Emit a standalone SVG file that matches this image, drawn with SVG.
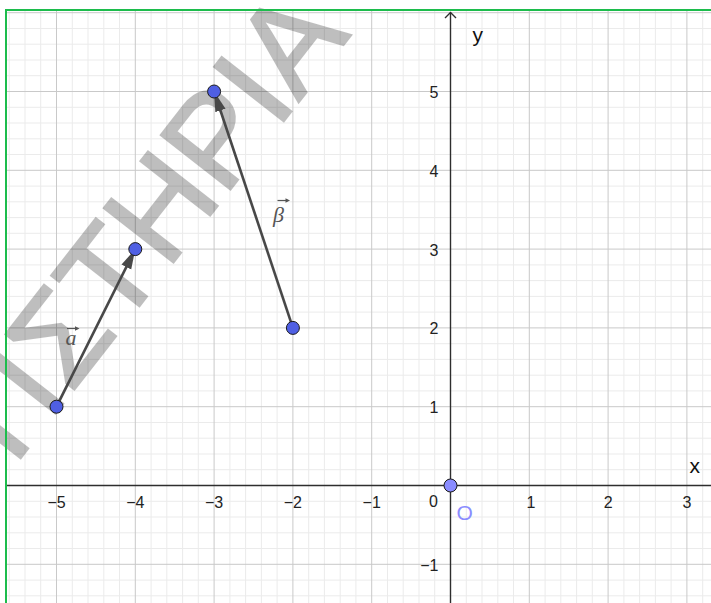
<svg xmlns="http://www.w3.org/2000/svg" width="711" height="603" viewBox="0 0 711 603">
<style>
.minor{stroke:#ebebeb;stroke-width:1;fill:none}
.major{stroke:#c9c9c9;stroke-width:1;fill:none}
.axis{stroke:#2e2e2e;stroke-width:1.4;fill:none}
.tick{font-family:"Liberation Sans",Arial,sans-serif;font-size:16px;fill:#222}
.axlab{font-family:"Liberation Sans",Arial,sans-serif;font-size:21px;fill:#111}
.vec{stroke:#484848;stroke-width:2.6;fill:none}
.pt{fill:#4f5fe3;stroke:#1a1a1a;stroke-width:1}
.pto{fill:#8a8cff;stroke:#1a1a1a;stroke-width:1}
.vlab{font-family:"Liberation Serif","Times New Roman",serif;font-style:italic;font-size:22px;fill:#555}
.wm{font-family:"Liberation Sans",Arial,sans-serif;font-size:128px;fill:#000;stroke:#000;stroke-width:2.5}
</style>
<defs>
<marker id="ah" viewBox="0 0 20 12" refX="20" refY="6" markerWidth="20" markerHeight="12" markerUnits="userSpaceOnUse" orient="auto">
<path d="M0,0.6 L20,6 L0,11.4 z" fill="#484848"/>
</marker>
</defs>
<rect x="0" y="0" width="711" height="603" fill="#fff"/>
<g id="grid">
<path class="minor" d="M9.2,10V603M25,10V603M40.7,10V603M72.3,10V603M88,10V603M103.8,10V603M119.5,10V603M151.1,10V603M166.8,10V603M182.6,10V603M198.3,10V603M229.9,10V603M245.6,10V603M261.4,10V603M277.1,10V603M308.7,10V603M324.4,10V603M340.2,10V603M355.9,10V603M387.5,10V603M403.2,10V603M419,10V603M434.7,10V603M466.3,10V603M482,10V603M497.8,10V603M513.5,10V603M545.1,10V603M560.8,10V603M576.6,10V603M592.3,10V603M623.9,10V603M639.6,10V603M655.4,10V603M671.1,10V603M702.7,10V603
M6,28.5H711M6,44.2H711M6,60H711M6,75.7H711M6,107.3H711M6,123H711M6,138.8H711M6,154.5H711M6,186.1H711M6,201.8H711M6,217.6H711M6,233.3H711M6,264.9H711M6,280.6H711M6,296.4H711M6,312.1H711M6,343.7H711M6,359.4H711M6,375.2H711M6,390.9H711M6,422.5H711M6,438.2H711M6,454H711M6,469.7H711M6,501.3H711M6,517H711M6,532.8H711M6,548.5H711M6,580.1H711M6,595.8H711"/>
<path class="major" d="M56.5,10V603M135.3,10V603M214.1,10V603M292.9,10V603M371.7,10V603M529.3,10V603M608.1,10V603M686.9,10V603
M6,12.7H711M6,91.5H711M6,170.3H711M6,249.1H711M6,327.9H711M6,406.7H711M6,564.3H711"/>
</g>
<g id="axes">
<path class="axis" d="M6,485.5H711M450.5,603V12.5"/>
<path class="axis" d="M445,18L450.5,12.5L456,18"/>
<text class="axlab" x="472.5" y="42">y</text>
<text class="axlab" x="689.5" y="473">x</text>
<g class="tick" text-anchor="middle">
<text x="56.5" y="508">−5</text>
<text x="135.3" y="508">−4</text>
<text x="214.1" y="508">−3</text>
<text x="292.9" y="508">−2</text>
<text x="371.7" y="508">−1</text>
<text x="433.5" y="507">0</text>
<text x="531" y="508">1</text>
<text x="608.1" y="508">2</text>
<text x="686.9" y="508">3</text>
</g>
<g class="tick" text-anchor="end">
<text x="438.5" y="98">5</text>
<text x="438.5" y="176.8">4</text>
<text x="438.5" y="255.6">3</text>
<text x="438.5" y="334.4">2</text>
<text x="438.5" y="413.2">1</text>
<text x="438.5" y="571">−1</text>
</g>
</g>
<g id="watermark" opacity="0.25">
<text class="wm" transform="translate(351,35) rotate(-52)" text-anchor="end">ΤΙΣΤΗΡΙΑ</text>
</g>
<g id="frame">
<path d="M6,603V10H711" fill="none" stroke="#1cbc4c" stroke-width="2"/>
</g>
<g id="connectors">
<line id="vec-a" class="vec" x1="56.5" y1="406.7" x2="135.3" y2="249.1" marker-end="url(#ah)"/>
<line id="vec-b" class="vec" x1="292.9" y1="327.9" x2="214.1" y2="91.5" marker-end="url(#ah)"/>
</g>
<g id="label-a">
<text class="vlab" x="65.5" y="345">a</text>
<path d="M67,328.5H77.5" stroke="#555" stroke-width="1.2" fill="none"/>
<path d="M75,326.2L79.5,328.5L75,330.8z" fill="#555"/>
</g>
<g id="label-b">
<text class="vlab" x="273" y="222">β</text>
<path d="M277.5,200.5H288" stroke="#555" stroke-width="1.2" fill="none"/>
<path d="M285.5,198.2L290,200.5L285.5,202.8z" fill="#555"/>
</g>
<g id="point-a1"><circle class="pt" cx="56.5" cy="406.7" r="6.5"/></g>
<g id="point-a2"><circle class="pt" cx="135.3" cy="249.1" r="6.5"/></g>
<g id="point-b1"><circle class="pt" cx="292.9" cy="327.9" r="6.5"/></g>
<g id="point-b2"><circle class="pt" cx="214.1" cy="91.5" r="6.5"/></g>
<g id="point-o">
<circle class="pto" cx="450.5" cy="485.5" r="6.5"/>
<text x="456.5" y="519.5" font-family="Liberation Sans,Arial,sans-serif" font-size="21" fill="#8a8cff">O</text>
</g>
</svg>
